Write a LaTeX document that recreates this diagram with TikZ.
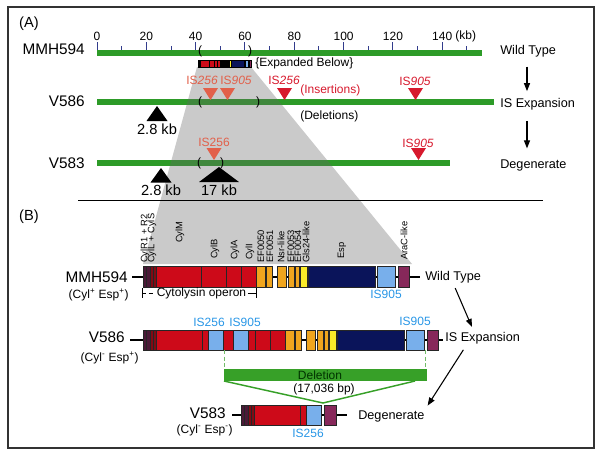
\documentclass[tikz,border=0pt]{standalone}
\usepackage{fontspec}
\setmainfont{Liberation Sans}
\usetikzlibrary{positioning}
\usetikzlibrary{arrows.meta}
\definecolor{chromgreen}{RGB}{45,155,40}
\definecolor{delgreen}{RGB}{55,160,40}
\definecolor{tickblue}{RGB}{50,60,140}
\definecolor{isred}{RGB}{215,25,45}
\definecolor{iscoral}{RGB}{226,96,74}
\definecolor{isblue}{RGB}{40,150,230}
\definecolor{cylR}{RGB}{75,25,55}
\definecolor{cylL}{RGB}{130,10,20}
\definecolor{cyl}{RGB}{205,10,25}
\definecolor{ef}{RGB}{240,165,30}
\definecolor{gls}{RGB}{250,235,40}
\definecolor{esp}{RGB}{10,20,90}
\definecolor{isb}{RGB}{120,175,235}
\definecolor{ara}{RGB}{135,40,90}
% gene maps (pixel columns)
\newcommand{\mmhgenes}{143/146.5/cylR, 146.5/150/cylR, 150/153/cylL, 153/156/cylL,
  156/201/cyl, 201/226/cyl, 226/241/cyl, 241/256/cyl, 256.7/265/ef, 266.7/272.7/ef,
  277.7/286/ef, 288.3/294/ef, 295/299.3/ef, 300.7/307.3/gls, 308/375/esp, 377/395/isb, 398/409/ara}
\newcommand{\vfiveeightsix}{143/146.5/cylR, 146.5/150/cylR, 150/153/cylL, 153/156/cylL,
  156/202/cyl, 202/208/cyl, 208/223/isb, 223/233/cyl, 233/248/isb, 248/255/cyl, 255/270/cyl,
  270/285/cyl, 285.7/294/ef, 295.7/301.7/ef, 306.7/315/ef, 317.3/323/ef, 324/328.3/ef,
  329.7/336.3/gls, 337/404/esp, 406/424/isb, 427/438/ara}
\newcommand{\vfiveeightthree}{241/244.5/cylR, 244.5/248/cylR, 248/251/cylL, 251/254/cylL,
  254/300/cyl, 300/306/cyl, 306/321/isb, 324/336/ara}

\begin{document}
\begin{tikzpicture}[x=0.75pt, y=-0.75pt,
  txt/.style={inner sep=0pt, font=\fontsize{9}{10}\selectfont},
  strain/.style={inner sep=0pt, font=\fontsize{11.5}{13}\selectfont},
  stage/.style={inner sep=0pt, anchor=west, font=\fontsize{9.5}{11}\selectfont},
  kbtext/.style={inner sep=0pt, font=\fontsize{11}{12}\selectfont},
  gene/.style={inner sep=0pt, anchor=west, rotate=90, font=\fontsize{7}{8}\selectfont},
  gbox/.style={draw=black!85, line width=0.6pt},
  backbone/.style={line width=1.5pt},
  arrow/.style={-{Triangle[length=6pt,width=4.5pt]}, line width=0.8pt}
]
\useasboundingbox (0,0) rectangle (602,457);
\draw[line width=1.2pt, black!80] (8,7) rectangle (594,448);

% ---------------- Panel A ----------------
\node[txt, font=\fontsize{11}{12}\selectfont] (panA) at (29,24) {(A)};

% chromosomes
\fill[chromgreen] (97,50) rectangle (482,56);
\fill[chromgreen] (97,99) rectangle (494,105);
\fill[chromgreen] (97,160) rectangle (450,166);

% expansion wedge
\fill[black!60, fill opacity=0.35] (197,67) -- (251,67) -- (412,264) -- (143,264) -- cycle;

% scale
\foreach \k in {0,20,...,140}
  \draw[tickblue, line width=0.7pt] ({97+2.466*\k},42) -- ({97+2.466*\k},50);
\foreach \k in {10,30,...,150}
  \draw[tickblue, line width=0.7pt] ({97+2.466*\k},46) -- ({97+2.466*\k},50);
\foreach \k in {0,20,...,120}
  \node[txt] (tk\k) at ({97+2.466*\k},36) {\k};
\node[txt] (tk140) at (442.2,36) {140};
\node[txt, right=2pt of tk140] (kbunit) {(kb)};

% strain names
\node[strain, anchor=east] (mmhA) at (85,49) {MMH594};
\node[strain, anchor=east] (vsixA) at (85,101) {V586};
\node[strain, anchor=east] (vthreeA) at (85,163) {V583};

% stages
\node[stage] (wtA) at (500,51) {Wild Type};
\node[stage] (iseA) at (500,104) {IS Expansion};
\node[stage] (degA) at (500,165) {Degenerate};
\coordinate (colA) at (527,0);
\draw[arrow, shorten <=7pt, shorten >=5pt] (wtA.south -| colA) -- (iseA.north -| colA);
\draw[arrow, shorten <=8pt, shorten >=8pt] (iseA.south -| colA) -- (degA.north -| colA);

% expanded region on MMH594
\node[txt] (brA1) at (200,51) {(};
\node[txt] (brA2) at (250,51) {)};
\foreach \a/\b/\c in \mmhgenes
  \filldraw[fill=\c, draw=black, line width=0.2pt] ({198+0.2*(\a-143)},60) rectangle ({198+0.2*(\b-143)},67);
\node[txt, anchor=west] (expand) at (255,63.5) {\{Expanded Below\}};

% V586 insertions and deletions
\node[txt] (brB1) at (200,102) {(};
\node[txt] (brB2) at (258,102) {)};
\fill[iscoral] (210.5,100) -- ++(-7.5,-12) -- ++(15,0) -- cycle;
\fill[iscoral] (227.5,100) -- ++(-7.5,-12) -- ++(15,0) -- cycle;
\fill[isred] (284.5,100) -- ++(-7.5,-12) -- ++(15,0) -- cycle;
\fill[isred] (415.5,100) -- ++(-7.5,-12) -- ++(15,0) -- cycle;
\node[txt, iscoral] (isA1) at (202,80) {IS\textit{256}};
\node[txt, iscoral] (isA2) at (236,80) {IS\textit{905}};
\node[txt, isred] (isA3) at (284,80) {IS\textit{256}};
\node[txt, isred] (isA4) at (415,81) {IS\textit{905}};
\node[txt, isred, anchor=west] (insert) at (300,90) {(Insertions)};
\node[txt, anchor=west] (delet) at (300,116) {(Deletions)};
\fill (157,106) -- ++(10.5,15) -- ++(-21,0) -- cycle;
\node[kbtext] (kbA1) at (157,129) {2.8 kb};

% V583
\node[txt] (brC1) at (199,163) {(};
\node[txt] (brC2) at (222,163) {)};
\fill[iscoral] (214,160) -- ++(-7.5,-12) -- ++(15,0) -- cycle;
\fill[isred] (418.5,160) -- ++(-7.5,-12) -- ++(15,0) -- cycle;
\node[txt, iscoral] (isA5) at (214,142) {IS256};
\node[txt, isred] (isA6) at (418,143) {IS\textit{905}};
\fill (161,168) -- ++(10.5,14.5) -- ++(-21,0) -- cycle;
\fill (219,167) -- ++(20,15) -- ++(-40,0) -- cycle;
\node[kbtext] (kbA2) at (161,190) {2.8 kb};
\node[kbtext] (kbA3) at (219,190) {17 kb};

\draw[line width=0.6pt] (78,200) -- (543,200);

% ---------------- Panel B ----------------
\node[txt, font=\fontsize{11}{12}\selectfont] (panB) at (29,217) {(B)};

% gene names
\foreach \gx/\gy/\gname [count=\i] in {145/263/CylR1 + R2, 152/263/CylL + CylS, 180/243/CylM,
    215/259/CylB, 235/260/CylA, 250/260/CylI, 261/263/EF0050, 270/263/EF0051, 281/263/Nsr-like,
    291/263/EF0053, 298/263/EF0054, 306/263/Gls24-like, 342/259/Esp, 404/260/AraC-like}
  \node[gene] (gname\i) at (\gx,\gy) {\gname};

% MMH594
\draw[backbone] (132,276.5) -- (420,276.5);
\foreach \a/\b/\c in \mmhgenes
  \filldraw[gbox, fill=\c] (\a,266) rectangle (\b,287);
\node[strain, anchor=east] (mmhB) at (128,277) {MMH594};
\node[txt, anchor=east] (phenoA) at (129,295) {(Cyl\textsuperscript{+} Esp\textsuperscript{+})};
\node[txt, isblue] (isB1) at (386,294) {IS905};
\node[txt] (cytop) at (201.5,293) {Cytolysin operon};
\draw (142,288) -- (142,298);
\draw (256,288) -- (256,298);
\draw[densely dashed, shorten >=1pt] (142,293) -- (cytop.west);
\draw[shorten <=1pt] (cytop.east) -- (256,293);
\node[stage] (wtB) at (425,277) {Wild Type};

% V586
\draw[backbone] (130,340) -- (443,340);
\foreach \a/\b/\c in \vfiveeightsix
  \filldraw[gbox, fill=\c] (\a,330) rectangle (\b,350);
\node[strain, anchor=east] (vsixB) at (125,337) {V586};
\node[txt, anchor=east] (phenoB) at (139,358) {(Cyl\textsuperscript{-} Esp\textsuperscript{+})};
\node[txt, isblue] (isB2) at (209,322) {IS256};
\node[txt, isblue] (isB3) at (245,322) {IS905};
\node[txt, isblue] (isB4) at (415,321) {IS905};
\node[stage] (iseB) at (445,338) {IS Expansion};

% deletion
\draw[delgreen!70, densely dashed, line width=0.6pt] (224,350) -- (224,369);
\draw[delgreen!70, densely dashed, line width=0.6pt] (425,350) -- (425,369);
\fill[delgreen] (224,369) rectangle (427,381);
\node[txt, black!80!green] (delbar) at (320,375) {Deletion};
\node[txt] (dellen) at (324,389) {(17,036 bp)};
\draw[delgreen, line width=1.1pt] (224,381) -- (323,403) -- (415,381);

% V583
\draw[backbone] (232,415) -- (347,415);
\foreach \a/\b/\c in \vfiveeightthree
  \filldraw[gbox, fill=\c] (\a,405) rectangle (\b,425);
\node[strain, anchor=east] (vthreeB) at (226,413.5) {V583};
\node[txt, anchor=east] (phenoC) at (233,430.5) {(Cyl\textsuperscript{-} Esp\textsuperscript{-})};
\node[txt, isblue] (isB5) at (308,433) {IS256};
\node[stage] (degB) at (358,416) {Degenerate};

% stage arrows
\coordinate (colB) at (474,0);
\coordinate (colC) at (467,0);
\draw[arrow, shorten <=4pt, shorten >=4pt] (wtB.south) -- (iseB.north -| colB);
\draw[arrow, shorten <=5pt, shorten >=4pt] (iseB.south -| colC) -- (degB.north east);

\end{tikzpicture}
\end{document}
